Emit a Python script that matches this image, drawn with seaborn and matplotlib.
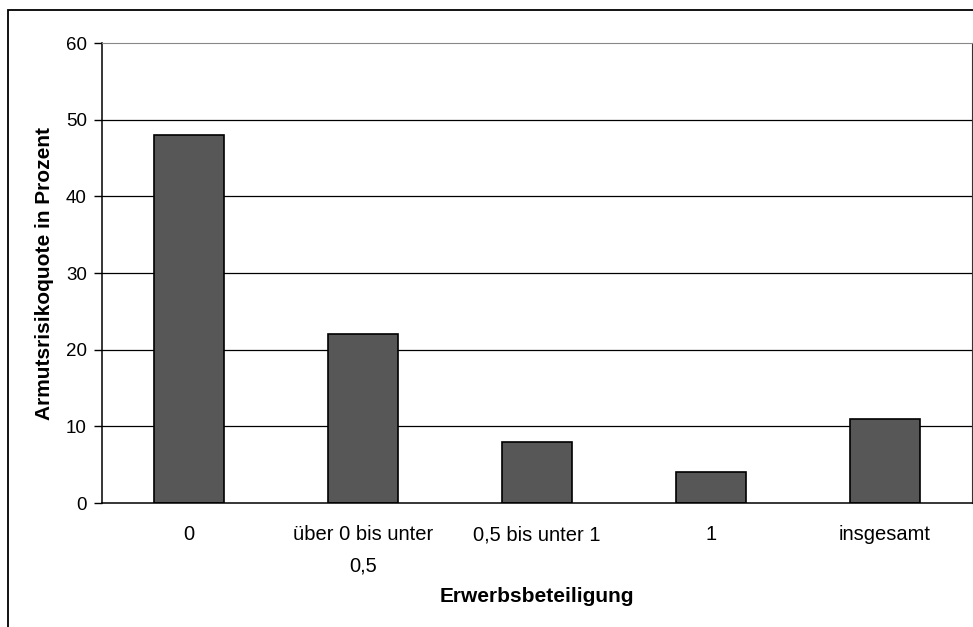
import numpy as np
import pandas as pd
import seaborn as sns
import matplotlib.pyplot as plt
from matplotlib.patches import Rectangle

categories = ["0", "über 0 bis unter\n0,5", "0,5 bis unter 1", "1", "insgesamt"]
values = [48, 22, 8, 4, 11]
y_ticks = [0, 10, 20, 30, 40, 50, 60]

df = pd.DataFrame({"Erwerbsbeteiligung": categories, "Quote": values})

sns.set_style("white")
plt.rcParams["font.family"] = ["Liberation Sans", "DejaVu Sans"]
plt.rcParams["text.color"] = "black"
plt.rcParams["axes.labelcolor"] = "black"
plt.rcParams["xtick.color"] = "black"
plt.rcParams["ytick.color"] = "black"

fig = plt.figure(figsize=(9.73, 6.27), dpi=100)
ax = fig.add_axes([102 / 973, 1 - 503 / 627, 870 / 973, 460 / 627])

sns.barplot(data=df, x="Erwerbsbeteiligung", y="Quote", color="#575757",
            saturation=1, width=0.4, edgecolor="black", linewidth=1.2, ax=ax)

ax.set_ylim(0, 60)
ax.set_xlim(-0.5, len(categories) - 0.5)
ax.set_yticks(y_ticks)
ax.set_yticklabels([str(t) for t in y_ticks], fontsize=13.5)
for t in y_ticks[1:-1]:
    ax.axhline(t, color="black", linewidth=0.9, zorder=0)
ax.set_axisbelow(True)

# category labels between boundary ticks
ax.set_xticks(np.arange(len(categories)))
ax.set_xticklabels(categories, fontsize=14.5, linespacing=1.8)
ax.tick_params(axis="x", length=0, pad=16)
ax.set_xticks(np.arange(len(categories) + 1) - 0.5, minor=True)
ax.tick_params(axis="x", which="minor", length=6, width=1, direction="out", color="black")
ax.tick_params(axis="y", length=6, width=1, direction="out", color="black", pad=5, left=True)

for side in ["left", "bottom"]:
    ax.spines[side].set_color("black")
    ax.spines[side].set_linewidth(1.1)
ax.spines["top"].set_color("#888888")
ax.spines["right"].set_color("#333333")

ax.set_xlabel("Erwerbsbeteiligung", fontsize=15, fontweight="bold")
ax.set_ylabel("Armutsrisikoquote in Prozent", fontsize=15, fontweight="bold")
ax.xaxis.set_label_coords(0.5, -0.183)
ax.yaxis.set_label_coords(-0.055, 0.5)

# outer chart frame
fig.patches.append(Rectangle((8 / 973, -0.05), 1.2, 1.05 - 10 / 627,
                             transform=fig.transFigure, fill=False,
                             edgecolor="black", linewidth=1.3, clip_on=False))

fig.savefig("out.png", dpi=100)
